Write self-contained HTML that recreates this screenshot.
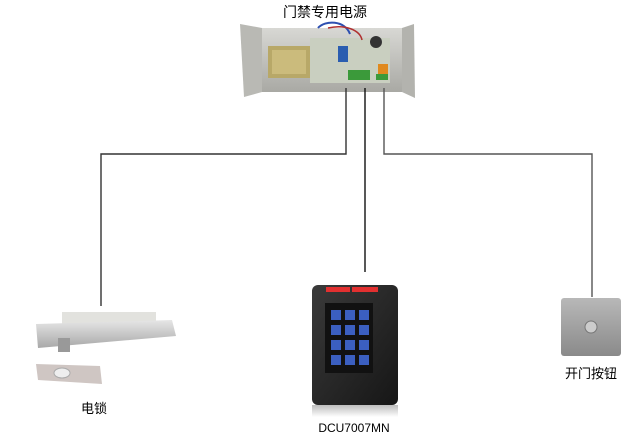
<!DOCTYPE html>
<html><head><meta charset="utf-8"><style>
html,body{margin:0;padding:0;background:#fff;}
svg{display:block;}
text{font-family:"Liberation Sans","Noto Sans CJK SC",sans-serif;fill:#000;}
</style></head><body>
<svg width="627" height="438" viewBox="0 0 627 438" xmlns="http://www.w3.org/2000/svg">
<defs>
<linearGradient id="box" x1="0" y1="0" x2="0" y2="1"><stop offset="0" stop-color="#d8d8d4"/><stop offset="1" stop-color="#a9a9a4"/></linearGradient>
<linearGradient id="rail" x1="0" y1="0" x2="0" y2="1"><stop offset="0" stop-color="#e6e6e6"/><stop offset="1" stop-color="#a8a8a8"/></linearGradient>
<linearGradient id="kp" x1="0" y1="0" x2="1" y2="1"><stop offset="0" stop-color="#3a3a3a"/><stop offset="1" stop-color="#161616"/></linearGradient>
<linearGradient id="btn" x1="0" y1="0" x2="0" y2="1"><stop offset="0" stop-color="#b8b8b8"/><stop offset="1" stop-color="#8a8a8a"/></linearGradient>
<linearGradient id="refl" x1="0" y1="0" x2="0" y2="1"><stop offset="0" stop-color="#bdbdbd"/><stop offset="1" stop-color="#fff"/></linearGradient>
</defs>
<text x="325" y="17" font-size="14" text-anchor="middle">门禁专用电源</text>
<!-- power supply -->
<polygon points="240,24 262,28 262,92 244,97" fill="#b9b9b4"/>
<polygon points="402,28 414,24 415,98 402,92" fill="#b3b3ae"/>
<rect x="262" y="28" width="140" height="64" fill="url(#box)"/>
<rect x="268" y="46" width="42" height="32" fill="#b8a868"/>
<rect x="272" y="50" width="34" height="24" fill="#cbbb7c"/>
<rect x="310" y="38" width="80" height="45" fill="#c9cfc0"/>
<rect x="338" y="46" width="10" height="16" fill="#2a5db0"/>
<circle cx="376" cy="42" r="6" fill="#333"/>
<rect x="348" y="70" width="22" height="10" fill="#3b9a3a"/>
<rect x="378" y="64" width="10" height="10" fill="#e08a1e"/>
<rect x="376" y="74" width="12" height="6" fill="#3b9a3a"/>
<path d="M318 28 C325 20 345 20 350 34" stroke="#2d4fb0" stroke-width="2" fill="none"/>
<path d="M328 28 C345 24 360 30 362 40" stroke="#b03030" stroke-width="1.5" fill="none"/>
<!-- wires -->
<g fill="none" stroke-width="1.4">
<polyline points="346,88 346,154 101,154 101,306" stroke="#333"/>
<polyline points="365,88 365,272" stroke="#111"/>
<polyline points="384,88 384,154 592,154 592,297" stroke="#555"/>
</g>
<!-- lock -->
<rect x="62" y="312" width="94" height="18" fill="#e2e2de"/>
<polygon points="36,324 172,320 176,336 38,348" fill="url(#rail)"/>
<circle cx="64" cy="345" r="6" fill="#888"/>
<rect x="58" y="338" width="12" height="14" fill="#999"/>
<polygon points="36,364 100,366 102,384 38,380" fill="#cfc6c3"/>
<ellipse cx="62" cy="373" rx="8" ry="5" fill="#eee" stroke="#aaa"/>
<text x="94" y="413" font-size="13" text-anchor="middle">电锁</text>
<!-- keypad -->
<rect x="312" y="285" width="86" height="120" rx="6" fill="url(#kp)"/>
<rect x="326" y="287" width="24" height="5" fill="#e23030"/>
<rect x="352" y="287" width="26" height="5" fill="#e23030"/>
<rect x="325" y="303" width="48" height="70" fill="#111"/>
<g fill="#3b5fc0">
<rect x="331" y="310" width="10" height="10"/><rect x="345" y="310" width="10" height="10"/><rect x="359" y="310" width="10" height="10"/>
<rect x="331" y="325" width="10" height="10"/><rect x="345" y="325" width="10" height="10"/><rect x="359" y="325" width="10" height="10"/>
<rect x="331" y="340" width="10" height="10"/><rect x="345" y="340" width="10" height="10"/><rect x="359" y="340" width="10" height="10"/>
<rect x="331" y="355" width="10" height="10"/><rect x="345" y="355" width="10" height="10"/><rect x="359" y="355" width="10" height="10"/>
</g>
<rect x="312" y="405" width="86" height="12" fill="url(#refl)"/>
<text x="354" y="432" font-size="12" text-anchor="middle">DCU7007MN</text>
<!-- button -->
<rect x="561" y="298" width="60" height="58" rx="3" fill="url(#btn)"/>
<circle cx="591" cy="327" r="6" fill="#ccc" stroke="#777"/>
<text x="591" y="378" font-size="13" text-anchor="middle">开门按钮</text>
</svg>
</body></html>
